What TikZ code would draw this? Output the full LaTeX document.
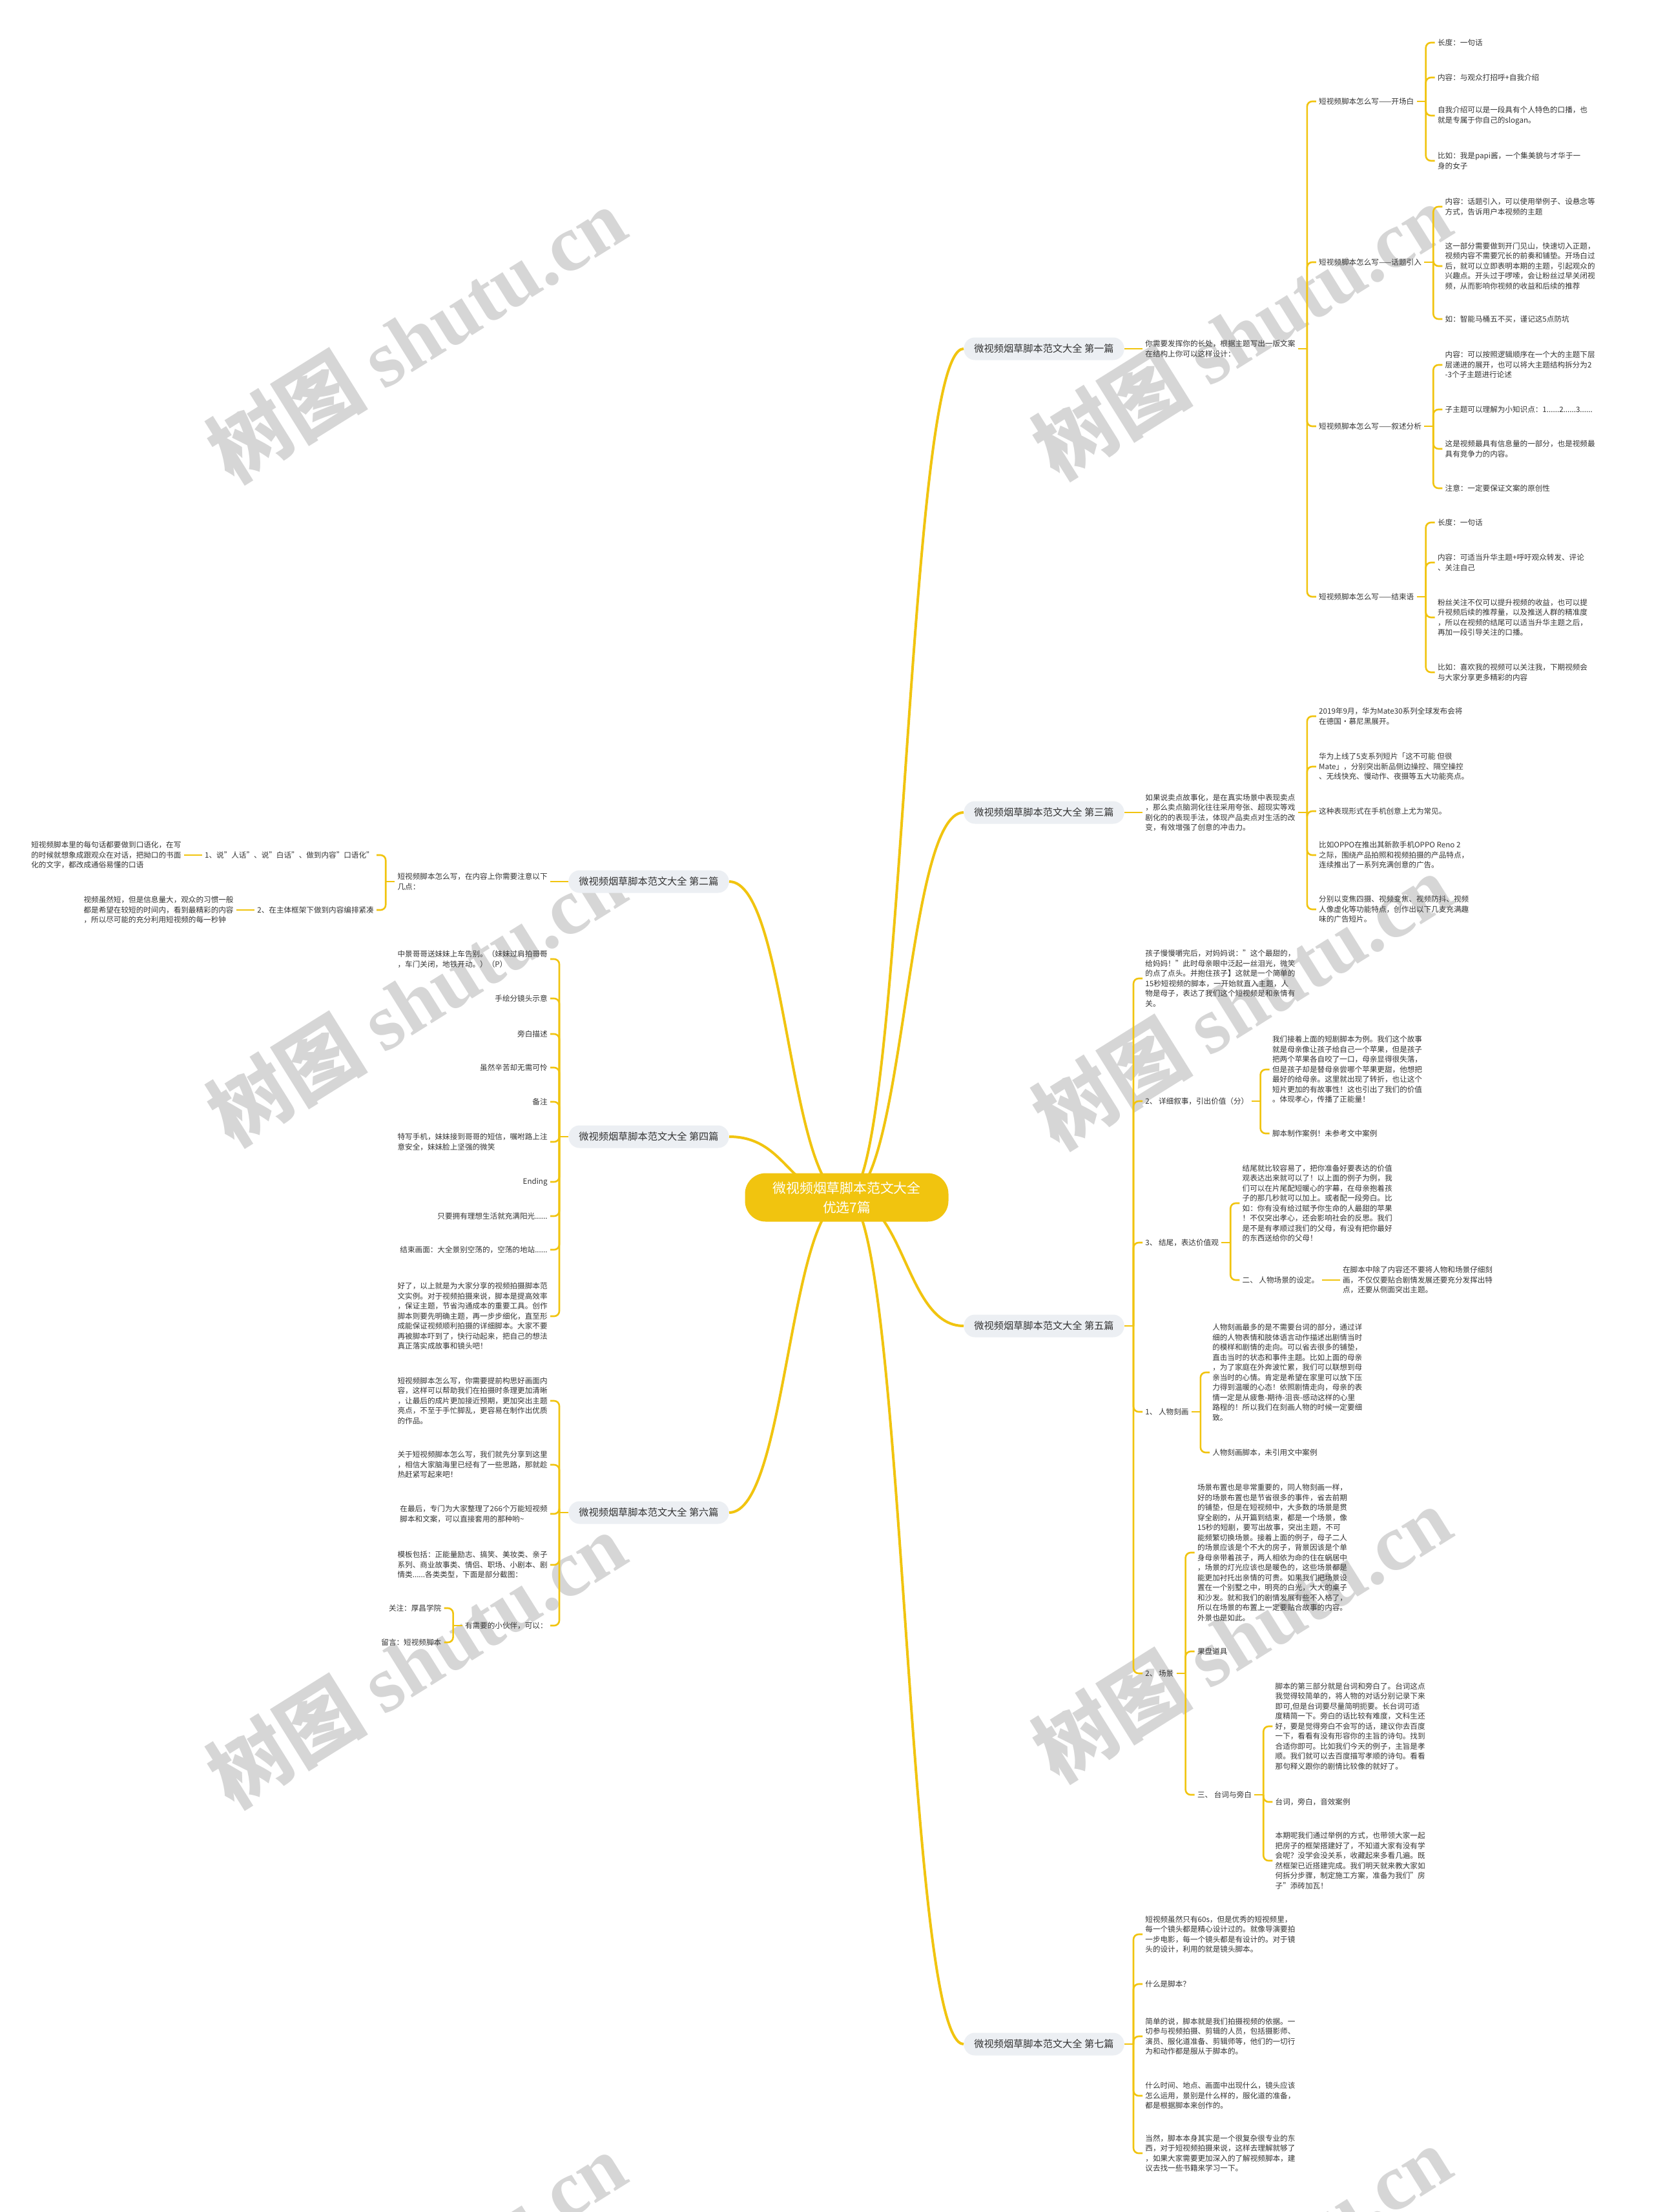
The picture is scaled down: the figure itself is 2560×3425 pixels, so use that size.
\documentclass[tikz,border=0pt]{standalone}
\usepackage{fontspec}
\setmainfont{Noto Sans CJK SC}
\newfontfamily\wmlatin{Liberation Serif}
\usepackage{tikz}
\definecolor{mapyellow}{HTML}{F1C40F}
\definecolor{pillgray}{HTML}{ECEFF3}
\definecolor{inkgray}{HTML}{333333}

\begin{document}
\begin{tikzpicture}[x=0.5pt,y=-0.5pt,
  leaf/.style={align=left,inner sep=2pt,text=inkgray,font=\fontsize{5.8pt}{7.75pt}\selectfont},
  rleaf/.style={leaf,anchor=west,xshift=14pt},
  lleaf/.style={leaf,anchor=east,xshift=-14pt},
  pillbox/.style={fill=pillgray,rounded corners=8.5pt,minimum height=17.5pt,inner xsep=8pt,text=inkgray,font=\fontsize{7.6pt}{9pt}\selectfont},
  rootbox/.style={fill=mapyellow,rounded corners=16pt,minimum width=157.5pt,minimum height=37.5pt,align=center,text=white,font=\fontsize{10.4pt}{15pt}\selectfont},
  trunk/.style={color=mapyellow,line width=2pt},
  twig/.style={color=mapyellow,line width=1.3pt,rounded corners=4pt},
  elbow/.style={to path={|- (\tikztotarget)}},
  wmark/.style={rotate=32,text=black!16,font=\fontsize{62pt}{62pt}\selectfont\bfseries}]
\path[use as bounding box,fill=white] (0,0) rectangle (2560,3425);

\node[wmark] (wm1) at (644,518) {树图 {\wmlatin shutu.cn}};
\node[wmark] (wm2) at (1922,513) {树图 {\wmlatin shutu.cn}};
\node[wmark] (wm3) at (644,1545) {树图 {\wmlatin shutu.cn}};
\node[wmark] (wm4) at (1922,1550) {树图 {\wmlatin shutu.cn}};
\node[wmark] (wm5) at (644,2570) {树图 {\wmlatin shutu.cn}};
\node[wmark] (wm6) at (1922,2530) {树图 {\wmlatin shutu.cn}};
\node[wmark] (wm7) at (644,3530) {树图 {\wmlatin shutu.cn}};
\node[wmark] (wm8) at (1922,3520) {树图 {\wmlatin shutu.cn}};

\coordinate (hub) at (1311,1854);
\node[pillbox,anchor=west] (b1) at (1492,540) {微视频烟草脚本范文大全 第一篇};
\node[pillbox,anchor=east] (b2) at (1129,1365) {微视频烟草脚本范文大全 第二篇};
\node[pillbox,anchor=west] (b3) at (1492,1258) {微视频烟草脚本范文大全 第三篇};
\node[pillbox,anchor=east] (b4) at (1129,1760) {微视频烟草脚本范文大全 第四篇};
\node[pillbox,anchor=west] (b5) at (1492,2053) {微视频烟草脚本范文大全 第五篇};
\node[pillbox,anchor=east] (b6) at (1129,2342) {微视频烟草脚本范文大全 第六篇};
\node[pillbox,anchor=west] (b7) at (1492,3165) {微视频烟草脚本范文大全 第七篇};

\draw[trunk] (hub) .. controls +(90,0) and +(-90,0) .. (b1.west);
\draw[trunk] (hub) .. controls +(-90,0) and +(90,0) .. (b2.east);
\draw[trunk] (hub) .. controls +(90,0) and +(-90,0) .. (b3.west);
\draw[trunk] (hub) .. controls +(-90,0) and +(90,0) .. (b4.east);
\draw[trunk] (hub) .. controls +(90,0) and +(-90,0) .. (b5.west);
\draw[trunk] (hub) .. controls +(-90,0) and +(90,0) .. (b6.east);
\draw[trunk] (hub) .. controls +(90,0) and +(-90,0) .. (b7.west);
\node[rootbox] (root) at (hub) {微视频烟草脚本范文大全\\优选7篇};

\node[rleaf] (d1) at (b1.east) {你需要发挥你的长处，根据主题写出一版文案\\在结构上你可以这样设计：};
\node[rleaf] (s11) at (d1.east |- 0,157) {短视频脚本怎么写——开场白};
\node[rleaf] (s12) at (d1.east |- 0,406) {短视频脚本怎么写——话题引入};
\node[rleaf] (s13) at (d1.east |- 0,660) {短视频脚本怎么写——叙述分析};
\node[rleaf] (s14) at (d1.east |- 0,924) {短视频脚本怎么写——结束语};
\node[rleaf] (l111) at (s11.east |- 0,66) {长度：一句话};
\node[rleaf] (l112) at (s11.east |- 0,120) {内容：与观众打招呼+自我介绍};
\node[rleaf] (l113) at (s11.east |- 0,179) {自我介绍可以是一段具有个人特色的口播，也\\就是专属于你自己的slogan。};
\node[rleaf] (l114) at (s11.east |- 0,249) {比如：我是papi酱，一个集美貌与才华于一\\身的女子};
\node[rleaf] (l121) at (s12.east |- 0,320) {内容：话题引入，可以使用举例子、设悬念等\\方式，告诉用户本视频的主题};
\node[rleaf] (l122) at (s12.east |- 0,412) {这一部分需要做到开门见山，快速切入正题，\\视频内容不需要冗长的前奏和铺垫。开场白过\\后，就可以立即表明本期的主题，引起观众的\\兴趣点。开头过于啰嗦，会让粉丝过早关闭视\\频，从而影响你视频的收益和后续的推荐};
\node[rleaf] (l123) at (s12.east |- 0,494) {如：智能马桶五不买，谨记这5点防坑};
\node[rleaf] (l131) at (s13.east |- 0,565) {内容：可以按照逻辑顺序在一个大的主题下层\\层递进的展开，也可以将大主题结构拆分为2\\-3个子主题进行论述};
\node[rleaf] (l132) at (s13.east |- 0,634) {子主题可以理解为小知识点：1......2......3......};
\node[rleaf] (l133) at (s13.east |- 0,695) {这是视频最具有信息量的一部分，也是视频最\\具有竞争力的内容。};
\node[rleaf] (l134) at (s13.east |- 0,756) {注意：一定要保证文案的原创性};
\node[rleaf] (l141) at (s14.east |- 0,809) {长度：一句话};
\node[rleaf] (l142) at (s14.east |- 0,871) {内容：可适当升华主题+呼吁观众转发、评论\\、关注自己};
\node[rleaf] (l143) at (s14.east |- 0,956) {粉丝关注不仅可以提升视频的收益，也可以提\\升视频后续的推荐量，以及推送人群的精准度\\，所以在视频的结尾可以适当升华主题之后，\\再加一段引导关注的口播。};
\node[rleaf] (l144) at (s14.east |- 0,1041) {比如：喜欢我的视频可以关注我，下期视频会\\与大家分享更多精彩的内容};
\draw[twig] (b1.east) -- (d1.west);
\draw[twig] (d1.east) -- ++(14,0) edge[elbow] (s11.west) edge[elbow] (s12.west) edge[elbow] (s13.west) edge[elbow] (s14.west);
\draw[twig] (s11.east) -- ++(14,0) edge[elbow] (l111.west) edge[elbow] (l112.west) edge[elbow] (l113.west) edge[elbow] (l114.west);
\draw[twig] (s12.east) -- ++(14,0) edge[elbow] (l121.west) edge[elbow] (l122.west) edge[elbow] (l123.west);
\draw[twig] (s13.east) -- ++(14,0) edge[elbow] (l131.west) edge[elbow] (l132.west) edge[elbow] (l133.west) edge[elbow] (l134.west);
\draw[twig] (s14.east) -- ++(14,0) edge[elbow] (l141.west) edge[elbow] (l142.west) edge[elbow] (l143.west) edge[elbow] (l144.west);

\node[rleaf] (d3) at (b3.east) {如果说卖点故事化，是在真实场景中表现卖点\\，那么卖点脑洞化往往采用夸张、超现实等戏\\剧化的的表现手法，体现产品卖点对生活的改\\变，有效增强了创意的冲击力。};
\node[rleaf] (l31) at (d3.east |- 0,1109) {2019年9月，华为Mate30系列全球发布会将\\在德国·慕尼黑展开。};
\node[rleaf] (l32) at (d3.east |- 0,1187) {华为上线了5支系列短片「这不可能 但很\\Mate」，分别突出新品侧边操控、隔空操控\\、无线快充、慢动作、夜摄等五大功能亮点。};
\node[rleaf] (l33) at (d3.east |- 0,1256) {这种表现形式在手机创意上尤为常见。};
\node[rleaf] (l34) at (d3.east |- 0,1324) {比如OPPO在推出其新款手机OPPO Reno 2\\之际，围绕产品拍照和视频拍摄的产品特点，\\连续推出了一系列充满创意的广告。};
\node[rleaf] (l35) at (d3.east |- 0,1408) {分别以变焦四摄、视频变焦、视频防抖、视频\\人像虚化等功能特点，创作出以下几支充满趣\\味的广告短片。};
\draw[twig] (b3.east) -- (d3.west);
\draw[twig] (d3.east) -- ++(14,0) edge[elbow] (l31.west) edge[elbow] (l32.west) edge[elbow] (l33.west) edge[elbow] (l34.west) edge[elbow] (l35.west);

\node[rleaf] (c51) at (b5.east |- 0,1515) {孩子慢慢嚼完后，对妈妈说："这个最甜的，\\给妈妈！"此时母亲眼中泛起一丝泪光，微笑\\的点了点头。并抱住孩子】这就是一个简单的\\15秒短视频的脚本，一开始就直入主题，人\\物是母子，表达了我们这个短视频是和亲情有\\关。};
\node[rleaf] (c52) at (b5.east |- 0,1705) {2、 详细叙事，引出价值（分）};
\node[rleaf] (c53) at (b5.east |- 0,1924) {3、 结尾，表达价值观};
\node[rleaf] (c54) at (b5.east |- 0,2186) {1、 人物刻画};
\node[rleaf] (c55) at (b5.east |- 0,2591) {2、 场景};
\node[rleaf] (l521) at (c52.east |- 0,1656) {我们接着上面的短剧脚本为例。我们这个故事\\就是母亲像让孩子给自己一个苹果，但是孩子\\把两个苹果各自咬了一口，母亲显得很失落，\\但是孩子却是替母亲尝哪个苹果更甜，他想把\\最好的给母亲。这里就出现了转折，也让这个\\短片更加的有故事性！这也引出了我们的价值\\。体现孝心，传播了正能量！};
\node[rleaf] (l522) at (c52.east |- 0,1755) {脚本制作案例！未参考文中案例};
\node[rleaf] (l531) at (c53.east |- 0,1863) {结尾就比较容易了，把你准备好要表达的价值\\观表达出来就可以了！以上面的例子为例，我\\们可以在片尾配短暖心的字幕，在母亲抱着孩\\子的那几秒就可以加上。或者配一段旁白。比\\如：你有没有给过赋予你生命的人最甜的苹果\\！不仅突出孝心，还会影响社会的反思。我们\\是不是有孝顺过我们的父母，有没有把你最好\\的东西送给你的父母！};
\node[rleaf] (c531) at (c53.east |- 0,1982) {二、 人物场景的设定。};
\node[rleaf] (l5311) at (c531.east) {在脚本中除了内容还不要将人物和场景仔细刻\\画，不仅仅要贴合剧情发展还要充分发挥出特\\点，还要从侧面突出主题。};
\node[rleaf] (l541) at (c54.east |- 0,2125) {人物刻画最多的是不需要台词的部分，通过详\\细的人物表情和肢体语言动作描述出剧情当时\\的模样和剧情的走向。可以省去很多的铺垫，\\直击当时的状态和事件主题。比如上面的母亲\\，为了家庭在外奔波忙累，我们可以联想到母\\亲当时的心情。肯定是希望在家里可以放下压\\力得到温暖的心态！依照剧情走向，母亲的表\\情一定是从疲惫-期待-沮丧-感动这样的心里\\路程的！所以我们在刻画人物的时候一定要细\\致。};
\node[rleaf] (l542) at (c54.east |- 0,2249) {人物刻画脚本，未引用文中案例};
\node[rleaf] (l551) at (c55.east |- 0,2404) {场景布置也是非常重要的，同人物刻画一样，\\好的场景布置也是节省很多的事件，省去前期\\的铺垫，但是在短视频中，大多数的场景是贯\\穿全剧的，从开篇到结束，都是一个场景，像\\15秒的短剧，要写出故事，突出主题，不可\\能频繁切换场景。接着上面的例子，母子二人\\的场景应该是个不大的房子，背景因该是个单\\身母亲带着孩子，两人相依为命的住在蜗居中\\，场景的灯光应该也是暖色的，这些场景都是\\能更加衬托出亲情的可贵。如果我们把场景设\\置在一个别墅之中，明亮的白光，大大的桌子\\和沙发。就和我们的剧情发展有些不入格了，\\所以在场景的布置上一定要贴合故事的内容。\\外景也是如此。};
\node[rleaf] (l552) at (c55.east |- 0,2557) {果盘道具};
\node[rleaf] (c551) at (c55.east |- 0,2779) {三、 台词与旁白};
\node[rleaf] (l5511) at (c551.east |- 0,2673) {脚本的第三部分就是台词和旁白了。台词这点\\我觉得较简单的，将人物的对话分别记录下来\\即可,但是台词要尽量简明扼要。长台词可适\\度精简一下。旁白的话比较有难度，文科生还\\好，要是觉得旁白不会写的话，建议你去百度\\一下，看看有没有形容你的主旨的诗句。找到\\合适你即可。比如我们今天的例子，主旨是孝\\顺。我们就可以去百度描写孝顺的诗句。看看\\那句释义跟你的剧情比较像的就好了。};
\node[rleaf] (l5512) at (c551.east |- 0,2790) {台词，旁白，音效案例};
\node[rleaf] (l5513) at (c551.east |- 0,2881) {本期呢我们通过举例的方式，也带领大家一起\\把房子的框架搭建好了，不知道大家有没有学\\会呢？没学会没关系，收藏起来多看几遍。既\\然框架已近搭建完成。我们明天就来教大家如\\何拆分步骤，制定施工方案，准备为我们"房\\子"添砖加瓦！};
\draw[twig] (b5.east) -- ++(14,0) edge[elbow] (c51.west) edge[elbow] (c52.west) edge[elbow] (c53.west) edge[elbow] (c54.west) edge[elbow] (c55.west);
\draw[twig] (c52.east) -- ++(14,0) edge[elbow] (l521.west) edge[elbow] (l522.west);
\draw[twig] (c53.east) -- ++(14,0) edge[elbow] (l531.west) edge[elbow] (c531.west);
\draw[twig] (c531.east) -- (l5311.west);
\draw[twig] (c54.east) -- ++(14,0) edge[elbow] (l541.west) edge[elbow] (l542.west);
\draw[twig] (c55.east) -- ++(14,0) edge[elbow] (l551.west) edge[elbow] (l552.west) edge[elbow] (c551.west);
\draw[twig] (c551.east) -- ++(14,0) edge[elbow] (l5511.west) edge[elbow] (l5512.west) edge[elbow] (l5513.west);

\node[rleaf] (l71) at (b7.east |- 0,2995) {短视频虽然只有60s，但是优秀的短视频里，\\每一个镜头都是精心设计过的。就像导演要拍\\一步电影，每一个镜头都是有设计的。对于镜\\头的设计，利用的就是镜头脚本。};
\node[rleaf] (l72) at (b7.east |- 0,3072) {什么是脚本？};
\node[rleaf] (l73) at (b7.east |- 0,3153) {简单的说，脚本就是我们拍摄视频的依据。一\\切参与视频拍摄、剪辑的人员，包括摄影师、\\演员、服化道准备、剪辑师等，他们的一切行\\为和动作都是服从于脚本的。};
\node[rleaf] (l74) at (b7.east |- 0,3245) {什么时间、地点、画面中出现什么，镜头应该\\怎么运用，景别是什么样的，服化道的准备，\\都是根据脚本来创作的。};
\node[rleaf] (l75) at (b7.east |- 0,3334) {当然，脚本本身其实是一个很复杂很专业的东\\西，对于短视频拍摄来说，这样去理解就够了\\，如果大家需要更加深入的了解视频脚本，建\\议去找一些书籍来学习一下。};
\draw[twig] (b7.east) -- ++(14,0) edge[elbow] (l71.west) edge[elbow] (l72.west) edge[elbow] (l73.west) edge[elbow] (l74.west) edge[elbow] (l75.west);

\node[lleaf] (d2) at (b2.west) {短视频脚本怎么写，在内容上你需要注意以下\\几点：};
\node[lleaf] (c21) at (d2.west |- 0,1324) {1、说"人话"、说"白话"、做到内容"口语化"};
\node[lleaf] (c22) at (d2.west |- 0,1409) {2、在主体框架下做到内容编排紧凑};
\node[lleaf] (l211) at (c21.west) {短视频脚本里的每句话都要做到口语化，在写\\的时候就想象成跟观众在对话，把拗口的书面\\化的文字，都改成通俗易懂的口语};
\node[lleaf] (l221) at (c22.west) {视频虽然短，但是信息量大，观众的习惯一般\\都是希望在较短的时间内，看到最精彩的内容\\，所以尽可能的充分利用短视频的每一秒钟};
\draw[twig] (b2.west) -- (d2.east);
\draw[twig] (d2.west) -- ++(-14,0) edge[elbow] (c21.east) edge[elbow] (c22.east);
\draw[twig] (c21.west) -- (l211.east);
\draw[twig] (c22.west) -- (l221.east);

\node[lleaf] (c41) at (b4.west |- 0,1485) {中景哥哥送妹妹上车告别。（妹妹过肩拍哥哥\\，车门关闭，地铁开动。）（P）};
\node[lleaf] (c42) at (b4.west |- 0,1546) {手绘分镜头示意};
\node[lleaf] (c43) at (b4.west |- 0,1601) {旁白描述};
\node[lleaf] (c44) at (b4.west |- 0,1653) {虽然辛苦却无需可怜};
\node[lleaf] (c45) at (b4.west |- 0,1706) {备注};
\node[lleaf] (c46) at (b4.west |- 0,1768) {特写手机，妹妹接到哥哥的短信，嘱咐路上注\\意安全，妹妹脸上坚强的微笑};
\node[lleaf] (c47) at (b4.west |- 0,1830) {Ending};
\node[lleaf] (c48) at (b4.west |- 0,1883) {只要拥有理想生活就充满阳光......};
\node[lleaf] (c49) at (b4.west |- 0,1935) {结束画面：大全景别空荡的，空荡的地站......};
\node[lleaf] (c410) at (b4.west |- 0,2038) {好了，以上就是为大家分享的视频拍摄脚本范\\文实例。对于视频拍摄来说，脚本是提高效率\\，保证主题，节省沟通成本的重要工具。创作\\脚本则要先明确主题，再一步步细化，直至形\\成能保证视频顺利拍摄的详细脚本。大家不要\\再被脚本吓到了，快行动起来，把自己的想法\\真正落实成故事和镜头吧！};
\draw[twig] (b4.west) -- ++(-14,0) edge[elbow] (c41.east) edge[elbow] (c42.east) edge[elbow] (c43.east) edge[elbow] (c44.east) edge[elbow] (c45.east) edge[elbow] (c46.east) edge[elbow] (c47.east) edge[elbow] (c48.east) edge[elbow] (c49.east) edge[elbow] (c410.east);

\node[lleaf] (c61) at (b6.west |- 0,2169) {短视频脚本怎么写，你需要提前构思好画面内\\容，这样可以帮助我们在拍摄时条理更加清晰\\，让最后的成片更加接近预期，更加突出主题\\亮点，不至于手忙脚乱，更容易在制作出优质\\的作品。};
\node[lleaf] (c62) at (b6.west |- 0,2268) {关于短视频脚本怎么写，我们就先分享到这里\\，相信大家脑海里已经有了一些思路，那就趁\\热赶紧写起来吧！};
\node[lleaf] (c63) at (b6.west |- 0,2344) {在最后，专门为大家整理了266个万能短视频\\脚本和文案，可以直接套用的那种哟\textasciitilde};
\node[lleaf] (c64) at (b6.west |- 0,2423) {模板包括：正能量励志、搞笑、美妆类、亲子\\系列、商业故事类、情侣、职场、小剧本、剧\\情类......各类类型，下面是部分截图：};
\node[lleaf] (c65) at (b6.west |- 0,2517) {有需要的小伙伴，可以：};
\node[lleaf] (l651) at (c65.west |- 0,2490) {关注：厚昌学院};
\node[lleaf] (l652) at (c65.west |- 0,2543) {留言：短视频脚本};
\draw[twig] (b6.west) -- ++(-14,0) edge[elbow] (c61.east) edge[elbow] (c62.east) edge[elbow] (c63.east) edge[elbow] (c64.east) edge[elbow] (c65.east);
\draw[twig] (c65.west) -- ++(-14,0) edge[elbow] (l651.east) edge[elbow] (l652.east);
\end{tikzpicture}
\end{document}
